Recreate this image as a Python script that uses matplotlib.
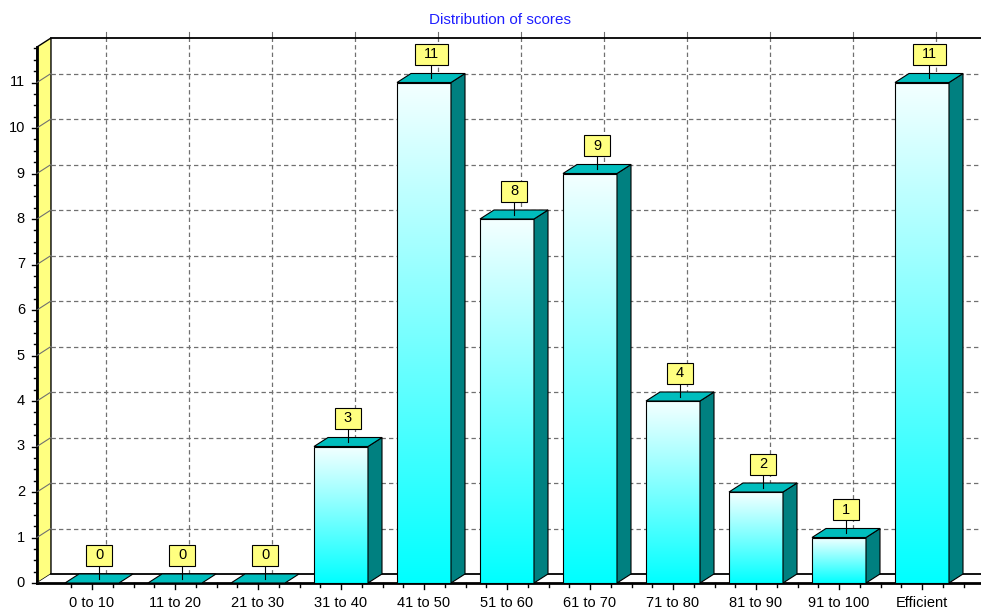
import numpy as np
import matplotlib.pyplot as plt
from matplotlib.patches import Polygon, Rectangle
from matplotlib.colors import LinearSegmentedColormap

# chart data
categories = ["0 to 10", "11 to 20", "21 to 30", "31 to 40", "41 to 50", "51 to 60",
              "61 to 70", "71 to 80", "81 to 90", "91 to 100", "Efficient"]
counts = [0, 0, 0, 3, 11, 8, 9, 4, 2, 1, 11]
y_ticks = list(range(0, 12))
title = "Distribution of scores"

plt.rcParams['font.family'] = ['Liberation Sans', 'DejaVu Sans']

fig = plt.figure(figsize=(9.81, 6.10), dpi=100)
ax = fig.add_axes([0, 0, 1, 1])
ax.set_axis_off()

# pixel sizes of one data unit, and the fake 3D depth
sx = 83.0
sy = 45.5
dx = 14 / sx
dy = 9 / sy
ymax = 11.78
x_left = -0.663
x_right = 11.0

wall_col = "#FFFF80"
grid_col = "#707070"
side_col = "#008080"
top_col = "#00BDBD"

# left (yellow) wall
ax.add_patch(Polygon([(x_left, 0), (x_left + dx, dy), (x_left + dx, ymax + dy), (x_left, ymax)],
                     closed=True, facecolor=wall_col, edgecolor="black", lw=1, zorder=1))
ax.plot([x_left, x_left], [0, ymax], color="black", lw=2, zorder=2)

# back wall grid
for k in y_ticks[1:]:
    ax.plot([x_left + dx, x_right], [k + dy, k + dy], color=grid_col, lw=0.9,
            ls=(0, (3.5, 2.5)), zorder=1)
    ax.plot([x_left, x_left + dx], [k, k + dy], color=grid_col, lw=0.8, zorder=2)
for i in range(len(categories)):
    ax.plot([i + dx, i + dx], [dy, ymax + dy], color=grid_col, lw=0.9,
            ls=(0, (3.5, 2.5)), zorder=1)
    ax.plot([i + dx, i + dx], [ymax + dy, ymax + dy + 6 / sy], color=grid_col, lw=0.8, zorder=1)
ax.plot([x_left + dx, x_right], [ymax + dy, ymax + dy], color="black", lw=1.3, zorder=2)

# floor
ax.add_patch(Polygon([(x_left, 0), (x_right, 0), (x_right + dx, dy), (x_left + dx, dy)],
                     closed=True, facecolor="white", edgecolor="none", zorder=2))
ax.plot([x_left + dx, x_right], [dy, dy], color="black", lw=1.3, zorder=2)
ax.plot([x_left, x_right], [0, 0], color="black", lw=2, zorder=2)

# y axis ticks and labels
for k in y_ticks:
    ax.plot([x_left - 5 / sx, x_left], [k, k], color="black", lw=1, zorder=2)
    ax.text(x_left - 12 / sx, k, str(k), ha="right", va="center", fontsize=10.5)
for v in np.arange(0, ymax, 0.25):
    if v % 1 != 0:
        ax.plot([x_left - 3 / sx, x_left], [v, v], color="black", lw=1, zorder=2)

# x axis ticks and labels
for i, lab in enumerate(categories):
    ax.plot([i, i], [0, -6 / sy], color="black", lw=1, zorder=2)
    for m in (-0.25, 0.25, 0.5):
        ax.plot([i + m, i + m], [0, -4 / sy], color="black", lw=1, zorder=2)
    ax.text(i, -20 / sy, lab, ha="center", va="center", fontsize=10.5)

# bars
cmap = LinearSegmentedColormap.from_list("cy", ["#00FFFF", "#F4FFFF"])
grad = np.linspace(0, 1, 256).reshape(-1, 1)
w = 27 / sx
for i, v in enumerate(counts):
    if v > 0:
        ax.imshow(grad, extent=(i - w, i + w, 0, v), cmap=cmap, aspect="auto",
                  origin="lower", zorder=3)
        ax.add_patch(Rectangle((i - w, 0), 2 * w, v, fill=False, edgecolor="black",
                               lw=0.8, zorder=4))
        ax.add_patch(Polygon([(i + w, 0), (i + w + dx, dy), (i + w + dx, v + dy), (i + w, v)],
                             closed=True, facecolor=side_col, edgecolor="black", lw=0.8, zorder=4))
    ax.add_patch(Polygon([(i - w, v), (i + w, v), (i + w + dx, v + dy), (i - w + dx, v + dy)],
                         closed=True, facecolor=top_col, edgecolor="black", lw=0.8, zorder=4))

    # value label box
    cx = i + dx / 2
    y0 = v + dy / 2
    by = y0 + 13 / sy
    bw = (18 + 7.5 * len(str(v))) / sx
    bh = 21 / sy
    ax.plot([cx, cx], [y0, by], color="black", lw=0.8, zorder=5)
    ax.add_patch(Rectangle((cx - bw / 2, by), bw, bh, facecolor=wall_col, edgecolor="black",
                           lw=0.8, zorder=5))
    ax.text(cx, by + bh / 2, str(v), ha="center", va="center", fontsize=10.5, zorder=6)

ax.text((500 - 92) / sx, (583 - 20) / sy, title, ha="center", va="center",
        fontsize=11, color="#1E1EFF")

ax.set_xlim(-92 / sx, (981 - 92) / sx)
ax.set_ylim((583 - 610) / sy, 583 / sy)

plt.savefig("out.png", dpi=100)
